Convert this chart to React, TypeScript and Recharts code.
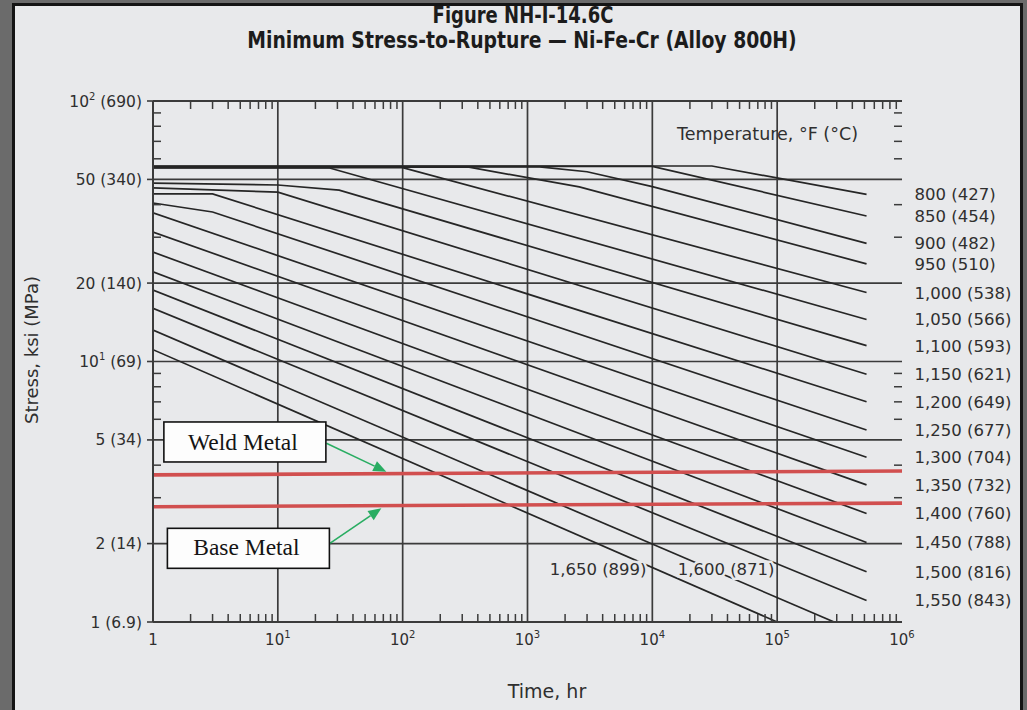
import React from "react";
import { LineChart, Line, XAxis, YAxis, ReferenceLine, ReferenceDot } from "recharts";

const SANS = "'DejaVu Sans', 'Liberation Sans', Arial, sans-serif";
const SERIF = "'Liberation Serif', 'DejaVu Serif', 'Times New Roman', serif";
const INK = "#2f2f2f";
const CURVE = "#262626";
const GRID = "#3b3b3b";
const PAPER = "#e8e9eb";
const RED = "#d14f4f";
const GREEN = "#29ad62";

// Time axis (hr), log scale: every tick, the labelled decades, and the grid decades
const timeTicks = [
  1, 2, 3, 4, 5, 6, 7, 8, 9,
  10, 20, 30, 40, 50, 60, 70, 80, 90,
  100, 200, 300, 400, 500, 600, 700, 800, 900,
  1000, 2000, 3000, 4000, 5000, 6000, 7000, 8000, 9000,
  10000, 20000, 30000, 40000, 50000, 60000, 70000, 80000, 90000,
  100000, 200000, 300000, 400000, 500000, 600000, 700000, 800000, 900000,
  1000000,
];
const timeLabelValues = [1, 10, 100, 1000, 10000, 100000, 1000000];
const timeLabelBase = ["1", "10", "10", "10", "10", "10", "10"];
const timeLabelExp = ["", "1", "2", "3", "4", "5", "6"];
const timeGrid = [10, 100, 1000, 10000, 100000];

// Stress axis (ksi), log scale
const stressTicks = [1, 2, 3, 4, 5, 6, 7, 8, 9, 10, 20, 30, 40, 50, 60, 70, 80, 90, 100];
const stressLabelValues = [1, 2, 5, 10, 20, 50, 100];
const stressLabelBase = ["1", "2", "5", "10", "20", "50", "10"];
const stressLabelExp = ["", "", "", "1", "", "", "2"];
const stressLabelMPa = ["(6.9)", "(14)", "(34)", "(69)", "(140)", "(340)", "(690)"];
const stressGrid = [2, 5, 10, 20, 50];

// Minimum stress-to-rupture curves, one per temperature: t in hr, s in ksi
const curve800 = [{ t: 1, s: 56.3 }, { t: 30000, s: 56.3 }, { t: 520000, s: 43.8 }];
const curve850 = [{ t: 1, s: 56.1 }, { t: 10000, s: 56.1 }, { t: 520000, s: 36.2 }];
const curve900 = [{ t: 1, s: 55.9 }, { t: 1250, s: 55.9 }, { t: 3000, s: 53.5 }, { t: 10000, s: 46.9 }, { t: 520000, s: 28.4 }];
const curve950 = [{ t: 1, s: 55.7 }, { t: 340, s: 55.7 }, { t: 2600, s: 46.8 }, { t: 520000, s: 23.7 }];
const curve1000 = [{ t: 1, s: 55.5 }, { t: 100, s: 55.5 }, { t: 520000, s: 18.4 }];
const curve1050 = [{ t: 1, s: 55.3 }, { t: 26, s: 55.3 }, { t: 520000, s: 14.5 }];
const curve1100 = [{ t: 1, s: 48.4 }, { t: 10, s: 47.6 }, { t: 31, s: 45.5 }, { t: 520000, s: 11.5 }];
const curve1150 = [{ t: 1, s: 46.4 }, { t: 10, s: 44.7 }, { t: 520000, s: 8.93 }];
const curve1200 = [{ t: 1, s: 44.0 }, { t: 3, s: 44.0 }, { t: 520000, s: 7.01 }];
const curve1250 = [{ t: 1, s: 40.6 }, { t: 3, s: 37.5 }, { t: 520000, s: 5.46 }];
const curve1300 = [{ t: 1, s: 37.2 }, { t: 520000, s: 4.29 }];
const curve1350 = [{ t: 1, s: 31.4 }, { t: 520000, s: 3.36 }];
const curve1400 = [{ t: 1, s: 26.3 }, { t: 520000, s: 2.61 }];
const curve1450 = [{ t: 1, s: 22.1 }, { t: 520000, s: 2.02 }];
const curve1500 = [{ t: 1, s: 18.8 }, { t: 520000, s: 1.56 }];
const curve1550 = [{ t: 1, s: 16.0 }, { t: 520000, s: 1.21 }];
const curve1600 = [{ t: 1, s: 13.2 }, { t: 286000, s: 1.0 }];
const curve1650 = [{ t: 1, s: 11.1 }, { t: 100000, s: 1.0 }];

const curves = [
  curve800, curve850, curve900, curve950, curve1000, curve1050, curve1100, curve1150, curve1200,
  curve1250, curve1300, curve1350, curve1400, curve1450, curve1500, curve1550, curve1600, curve1650,
];
const tempLabels = [
  "800 (427)", "850 (454)", "900 (482)", "950 (510)", "1,000 (538)", "1,050 (566)", "1,100 (593)",
  "1,150 (621)", "1,200 (649)", "1,250 (677)", "1,300 (704)", "1,350 (732)", "1,400 (760)",
  "1,450 (788)", "1,500 (816)", "1,550 (843)", "1,600 (871)", "1,650 (899)",
];
// the two hottest curves reach the time axis, so their labels sit inside the plot
const innerLabelPos = [
  { t: 39000, s: 1.594 }, // 1,600 (871)
  { t: 3680, s: 1.594 }, // 1,650 (899)
];

// Allowable stress levels
const weldMetal = [{ t: 1, s: 3.67 }, { t: 1000000, s: 3.8 }];
const baseMetal = [{ t: 1, s: 2.77 }, { t: 1000000, s: 2.86 }];
const weldBox = { t: 5.445, s: 4.91 };
const baseBox = { t: 5.81, s: 1.918 };
const weldArrow = [{ x: 24.5, y: 4.853 }, { x: 74, y: 3.776 }];
const baseArrow = [{ x: 26.1, y: 2.005 }, { x: 67.5, y: 2.732 }];

const BottomTick = (p: any) => {
  const { x, y, payload } = p;
  const i = timeLabelValues.indexOf(payload.value);
  if (i >= 0) {
    return (
      <text x={x} y={y + 23} textAnchor="middle" fontSize={15} fill={INK} fontFamily={SANS}>
        <tspan>{timeLabelBase[i]}</tspan>
        {timeLabelExp[i] ? <tspan dy={-7} fontSize={10}>{timeLabelExp[i]}</tspan> : null}
      </text>
    );
  }
  return <line x1={x} y1={y} x2={x} y2={y - 8} stroke={GRID} strokeWidth={1.5} />;
};

const TopTick = (p: any) => {
  const { x, y, payload } = p;
  if (timeLabelValues.indexOf(payload.value) >= 0) return <g />;
  return <line x1={x} y1={y} x2={x} y2={y + 8} stroke={GRID} strokeWidth={1.5} />;
};

const LeftTick = (p: any) => {
  const { x, y, payload } = p;
  const i = stressLabelValues.indexOf(payload.value);
  if (i >= 0) {
    return (
      <g>
        <line x1={x - 6} y1={y} x2={x} y2={y} stroke={GRID} strokeWidth={1.6} />
        <text x={x - 11} y={y + 5.5} textAnchor="end" fontSize={15.5} fill={INK} fontFamily={SANS}>
          <tspan>{stressLabelBase[i]}</tspan>
          {stressLabelExp[i] ? <tspan dy={-7} fontSize={10}>{stressLabelExp[i]}</tspan> : null}
          <tspan dy={stressLabelExp[i] ? 7 : 0}>{" " + stressLabelMPa[i]}</tspan>
        </text>
      </g>
    );
  }
  return <line x1={x} y1={y} x2={x + 8} y2={y} stroke={GRID} strokeWidth={1.5} />;
};

const RightTick = (p: any) => {
  const { x, y, payload } = p;
  if (stressLabelValues.indexOf(payload.value) >= 0) return <g />;
  return <line x1={x} y1={y} x2={x - 8} y2={y} stroke={GRID} strokeWidth={1.5} />;
};

const textAt = (text: string, dx: number, dy: number, anchor: string, mask: boolean) => (p: any) => {
  const vb = p.viewBox || {};
  return (
    <text
      x={vb.x + dx}
      y={vb.y + dy}
      textAnchor={anchor}
      fontSize={16.5}
      fill={INK}
      fontFamily={SANS}
      stroke={mask ? PAPER : "none"}
      strokeWidth={mask ? 5 : 0}
      paintOrder="stroke"
    >
      {text}
    </text>
  );
};

const boxAt = (text: string, w: number, h: number, textDy: number) => (p: any) => {
  const vb = p.viewBox || {};
  return (
    <g>
      <rect x={vb.x - w / 2} y={vb.y - h / 2} width={w} height={h} fill="#fdfdfd" stroke="#111" strokeWidth={1.6} />
      <text x={vb.x - 2} y={vb.y + textDy} textAnchor="middle" fontSize={23.5} fill="#141414" fontFamily={SERIF}>
        {text}
      </text>
    </g>
  );
};

const Arrow = (p: any) => {
  const { x1, y1, x2, y2 } = p;
  const ang = Math.atan2(y2 - y1, x2 - x1);
  const len = 13;
  const half = 5.5;
  const bx = x2 - len * Math.cos(ang);
  const by = y2 - len * Math.sin(ang);
  const px = -Math.sin(ang) * half;
  const py = Math.cos(ang) * half;
  return (
    <g>
      <line x1={x1} y1={y1} x2={bx} y2={by} stroke={GREEN} strokeWidth={1.6} />
      <polygon points={`${x2},${y2} ${bx + px},${by + py} ${bx - px},${by - py}`} fill={GREEN} />
    </g>
  );
};

export default function App() {
  return (
    <div style={{ position: "absolute", left: 0, top: 0, width: 1027, height: 710, background: "#6b6b6b", overflow: "hidden" }}>
      <div
        style={{
          position: "absolute",
          left: 12,
          top: 3,
          width: 1011,
          height: 730,
          boxSizing: "border-box",
          border: "3px solid #141414",
          background: PAPER,
        }}
      />
      <div style={{ position: "absolute", left: 0, top: 0 }}>
        <LineChart width={1027} height={710} margin={{ top: 91, right: 115, bottom: 58, left: 93 }}>
          <XAxis
            xAxisId="b"
            dataKey="t"
            type="number"
            scale="log"
            domain={[1, 1000000]}
            allowDataOverflow
            ticks={timeTicks}
            interval={0}
            tickSize={0}
            tickMargin={0}
            height={30}
            tickLine={false}
            axisLine={{ stroke: GRID, strokeWidth: 2 }}
            tick={(p: any) => <BottomTick {...p} />}
          />
          <XAxis
            xAxisId="t"
            orientation="top"
            dataKey="t"
            type="number"
            scale="log"
            domain={[1, 1000000]}
            allowDataOverflow
            ticks={timeTicks}
            interval={0}
            tickSize={0}
            tickMargin={0}
            height={10}
            tickLine={false}
            axisLine={{ stroke: GRID, strokeWidth: 2 }}
            tick={(p: any) => <TopTick {...p} />}
          />
          <YAxis
            yAxisId="l"
            type="number"
            scale="log"
            domain={[1, 100]}
            allowDataOverflow
            ticks={stressTicks}
            interval={0}
            tickSize={0}
            tickMargin={0}
            width={60}
            tickLine={false}
            axisLine={{ stroke: GRID, strokeWidth: 2 }}
            tick={(p: any) => <LeftTick {...p} />}
          />
          <YAxis
            yAxisId="r"
            orientation="right"
            type="number"
            scale="log"
            domain={[1, 100]}
            allowDataOverflow
            ticks={stressTicks}
            interval={0}
            tickSize={0}
            tickMargin={0}
            width={10}
            tickLine={false}
            axisLine={false}
            tick={(p: any) => <RightTick {...p} />}
          />

          {timeGrid.map((v) => (
            <ReferenceLine key={"gx" + v} xAxisId="b" yAxisId="l" x={v} stroke={GRID} strokeWidth={1.7} />
          ))}
          {stressGrid.map((v) => (
            <ReferenceLine key={"gy" + v} xAxisId="b" yAxisId="l" y={v} stroke={GRID} strokeWidth={1.7} />
          ))}

          {curves.map((c, i) => (
            <Line
              key={"c" + i}
              xAxisId="b"
              yAxisId="l"
              data={c}
              dataKey="s"
              type="linear"
              stroke={CURVE}
              strokeWidth={1.7}
              dot={false}
              activeDot={false}
              isAnimationActive={false}
            />
          ))}

          <Line xAxisId="b" yAxisId="l" data={weldMetal} dataKey="s" type="linear" stroke={RED} strokeWidth={3.6} dot={false} activeDot={false} isAnimationActive={false} />
          <Line xAxisId="b" yAxisId="l" data={baseMetal} dataKey="s" type="linear" stroke={RED} strokeWidth={3.6} dot={false} activeDot={false} isAnimationActive={false} />

          {curves.slice(0, 16).map((c, i) => (
            <ReferenceDot
              key={"lab" + i}
              xAxisId="b"
              yAxisId="l"
              x={c[c.length - 1].t}
              y={c[c.length - 1].s}
              r={0}
              fill="none"
              stroke="none"
              label={textAt(tempLabels[i], 48, 6, "start", false)}
            />
          ))}
          {innerLabelPos.map((pos, i) => (
            <ReferenceDot
              key={"in" + i}
              xAxisId="b"
              yAxisId="l"
              x={pos.t}
              y={pos.s}
              r={0}
              fill="none"
              stroke="none"
              label={textAt(tempLabels[16 + i], 0, 6, "middle", true)}
            />
          ))}

          <ReferenceLine xAxisId="b" yAxisId="l" segment={weldArrow} shape={(p: any) => <Arrow {...p} />} />
          <ReferenceLine xAxisId="b" yAxisId="l" segment={baseArrow} shape={(p: any) => <Arrow {...p} />} />
          <ReferenceDot xAxisId="b" yAxisId="l" x={weldBox.t} y={weldBox.s} r={0} fill="none" stroke="none" label={boxAt("Weld Metal", 162, 40, 8)} />
          <ReferenceDot xAxisId="b" yAxisId="l" x={baseBox.t} y={baseBox.s} r={0} fill="none" stroke="none" label={boxAt("Base Metal", 162, 40, 7)} />
        </LineChart>
      </div>
      <svg width={1027} height={710} style={{ position: "absolute", left: 0, top: 0, pointerEvents: "none" }}>
        <text transform="translate(523,23) scale(0.8,1)" textAnchor="middle" fontSize={22.5} fontWeight="bold" fill="#1c1c1c" fontFamily={SANS}>
          Figure NH-I-14.6C
        </text>
        <text transform="translate(522,48) scale(0.8,1)" textAnchor="middle" fontSize={23.5} fontWeight="bold" fill="#1c1c1c" fontFamily={SANS}>
          Minimum Stress-to-Rupture — Ni-Fe-Cr (Alloy 800H)
        </text>
        <text x={677} y={140} fontSize={17.5} fill={INK} fontFamily={SANS}>
          Temperature, °F (°C)
        </text>
        <text x={547} y={698} textAnchor="middle" fontSize={19} fill={INK} fontFamily={SANS}>
          Time, hr
        </text>
        <text transform="translate(38,350) rotate(-90)" textAnchor="middle" fontSize={18} fill={INK} fontFamily={SANS}>
          Stress, ksi (MPa)
        </text>
      </svg>
    </div>
  );
}
